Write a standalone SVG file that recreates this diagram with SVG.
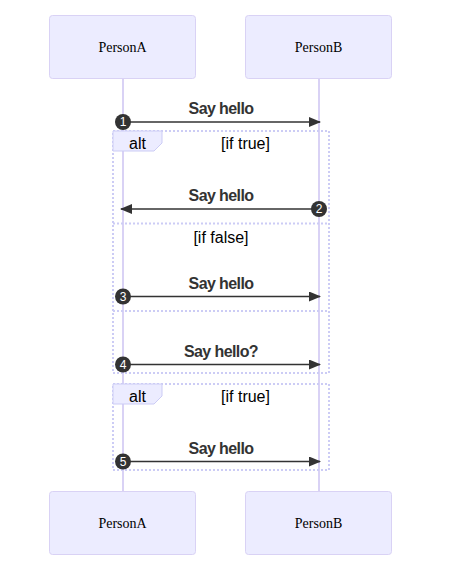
<svg xmlns="http://www.w3.org/2000/svg" width="450" height="571" viewBox="0 0 450 571">
<defs>
<style>
.actor{fill:#ececff;stroke:#d9d2f5;stroke-width:1}
.actorText{font-family:"Liberation Serif",serif;font-size:14px;fill:#000;text-anchor:middle;dominant-baseline:central}
.life{stroke:#d9d2f5;stroke-width:2}
.msg{stroke:#333;stroke-width:1.5;fill:none}
.msgText{font-family:"Liberation Sans",Arial,sans-serif;font-size:16px;font-weight:bold;letter-spacing:-0.6px;fill:#333;text-anchor:middle}
.loop{stroke:#ccccf5;stroke-width:2;stroke-dasharray:2 2;fill:none}
.labelBox{fill:#ececff;stroke:#ccccf5;stroke-width:1}
.loopText{font-family:"Liberation Sans",Arial,sans-serif;font-size:16px;fill:#000;text-anchor:middle}
.seqNum{fill:#333}
.seqText{font-family:"Liberation Sans",Arial,sans-serif;font-size:12px;fill:#fff;text-anchor:middle;dominant-baseline:central}
</style>
<marker id="arrow" viewBox="0 0 12 10" refX="11" refY="5" markerWidth="12" markerHeight="10" markerUnits="userSpaceOnUse" orient="auto">
<path d="M0,0 L12,5 L0,10 z" fill="#333"/>
</marker>
</defs>
<g id="lifelines">
<line class="life" x1="123" y1="78" x2="123" y2="491"/>
<line class="life" x1="319" y1="78" x2="319" y2="491"/>
</g>
<g id="PersonA-top"><rect class="actor" x="49.5" y="15.5" width="146" height="63" rx="3"/><text class="actorText" x="122.5" y="47">PersonA</text></g>
<g id="PersonB-top"><rect class="actor" x="245.5" y="15.5" width="146" height="63" rx="3"/><text class="actorText" x="318.5" y="47">PersonB</text></g>
<g id="PersonA-bottom"><rect class="actor" x="49.5" y="491.5" width="146" height="63" rx="3"/><text class="actorText" x="122.5" y="523">PersonA</text></g>
<g id="PersonB-bottom"><rect class="actor" x="245.5" y="491.5" width="146" height="63" rx="3"/><text class="actorText" x="318.5" y="523">PersonB</text></g>
<g id="alt1">
<rect class="loop" x="113" y="131" width="216" height="242"/>
<line class="loop" x1="113" y1="223.5" x2="329" y2="223.5"/>
<line class="loop" x1="113" y1="311" x2="329" y2="311"/>
<polygon class="labelBox" points="113,131 162,131 162,143 154,151 113,151"/>
<text class="loopText" x="137.5" y="149">alt</text>
<text class="loopText" x="245.5" y="149">[if true]</text>
<text class="loopText" x="221" y="242.5">[if false]</text>
</g>
<g id="alt2">
<rect class="loop" x="113" y="384" width="216" height="86"/>
<polygon class="labelBox" points="113,384 162,384 162,396 154,404 113,404"/>
<text class="loopText" x="137.5" y="402">alt</text>
<text class="loopText" x="245.5" y="402">[if true]</text>
</g>
<g id="connectors">
<line class="msg" x1="123" y1="122" x2="320" y2="122" marker-end="url(#arrow)"/>
<text class="msgText" x="221" y="113.5">Say hello</text>
<line class="msg" x1="319" y1="209" x2="121" y2="209" marker-end="url(#arrow)"/>
<text class="msgText" x="221" y="200.5">Say hello</text>
<line class="msg" x1="123" y1="296.5" x2="320" y2="296.5" marker-end="url(#arrow)"/>
<text class="msgText" x="221" y="288.5">Say hello</text>
<line class="msg" x1="123" y1="364.5" x2="320" y2="364.5" marker-end="url(#arrow)"/>
<text class="msgText" x="221" y="356.5">Say hello?</text>
<line class="msg" x1="123" y1="461.5" x2="320" y2="461.5" marker-end="url(#arrow)"/>
<text class="msgText" x="221" y="453.5">Say hello</text>
<circle class="seqNum" cx="123" cy="122" r="8"/><text class="seqText" x="123" y="122">1</text>
<circle class="seqNum" cx="319" cy="209" r="8"/><text class="seqText" x="319" y="209">2</text>
<circle class="seqNum" cx="123" cy="296.5" r="8"/><text class="seqText" x="123" y="296.5">3</text>
<circle class="seqNum" cx="123" cy="364.5" r="8"/><text class="seqText" x="123" y="364.5">4</text>
<circle class="seqNum" cx="123" cy="461.5" r="8"/><text class="seqText" x="123" y="461.5">5</text>
</g>
</svg>
